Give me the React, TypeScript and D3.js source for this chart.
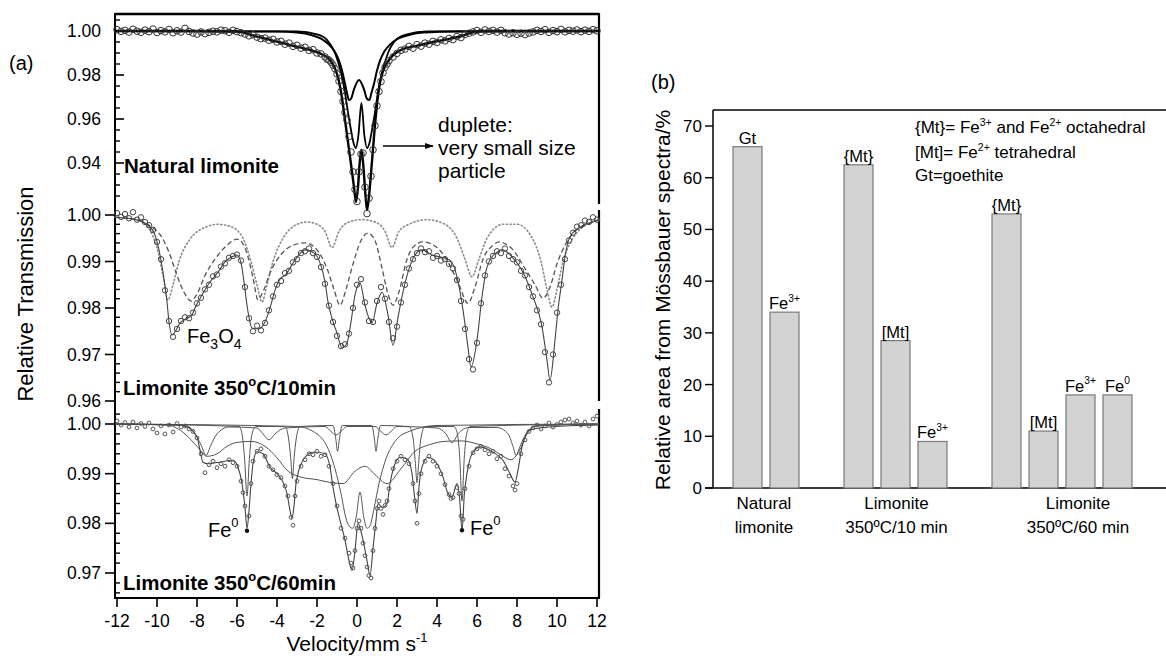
import React from 'react';
import * as d3 from 'd3';

type P = [number, number];

// ---------------- Panel (a): Mössbauer spectra ----------------
// Natural limonite
const topFit: P[] = [[-12.1,1.0],[-8,1.0],[-6,0.9998],[-5.2,0.998],[-4.35,0.996],[-3.35,0.9936],[-2.35,0.9914],[-1.85,0.9898],[-1.35,0.9868],[-1.1,0.983],[-0.9,0.977],[-0.75,0.9695],[-0.6,0.9595],[-0.45,0.9495],[-0.3,0.9395],[-0.15,0.929],[-0.05,0.9223],[0.05,0.929],[0.13,0.9395],[0.22,0.946],[0.31,0.9395],[0.41,0.927],[0.5,0.9186],[0.6,0.925],[0.72,0.9375],[0.85,0.952],[0.98,0.965],[1.12,0.975],[1.28,0.9812],[1.45,0.9848],[1.8,0.989],[2.15,0.9912],[3.15,0.9936],[3.8,0.995],[4.5,0.9962],[5.15,0.9975],[5.8,0.9994],[6.5,1.0],[12.1,1.0]];
const topDoublet: P[] = [[-12.1,1.0],[-4,0.9998],[-3,0.9993],[-2.3,0.9982],[-1.8,0.9965],[-1.4,0.9938],[-1.1,0.9905],[-0.9,0.9865],[-0.75,0.982],[-0.6,0.976],[-0.5,0.9718],[-0.4,0.9686],[-0.3,0.9692],[-0.15,0.9735],[0.1,0.9777],[0.35,0.9735],[0.5,0.9692],[0.62,0.9686],[0.72,0.9718],[0.85,0.976],[1.0,0.982],[1.15,0.9865],[1.35,0.9905],[1.65,0.9938],[2.05,0.9965],[2.6,0.9982],[3.3,0.9993],[5,0.9998],[12.1,1.0]];
const topInner: P[] = [[-12.1,1.0],[-3,0.9998],[-2.0,0.9985],[-1.5,0.996],[-1.1,0.99],[-0.8,0.981],[-0.6,0.972],[-0.45,0.963],[-0.3,0.955],[-0.17,0.949],[-0.05,0.9468],[0.07,0.9525],[0.22,0.9673],[0.37,0.9525],[0.5,0.9468],[0.62,0.949],[0.75,0.955],[0.9,0.963],[1.05,0.972],[1.25,0.981],[1.55,0.99],[1.95,0.996],[2.5,0.9985],[3.5,0.9998],[12.1,1.0]];
const topData: P[] = [[-12.0,1.0006],[-11.8,0.9998],[-11.6,1.0003],[-11.4,0.9995],[-11.2,1.0008],[-11.0,0.9999],[-10.8,0.9994],[-10.6,1.0004],[-10.4,0.9997],[-10.2,1.0009],[-10.0,0.9993],[-9.8,1.0002],[-9.6,0.9996],[-9.4,1.0007],[-9.2,0.9992],[-9.0,1.0001],[-8.8,0.9995],[-8.6,1.0012],[-8.4,0.9998],[-8.2,0.9991],[-8.0,0.9986],[-7.8,0.9996],[-7.6,0.9988],[-7.4,0.9994],[-7.2,0.9999],[-7.0,0.9996],[-6.8,1.0004],[-6.6,1.0001],[-6.4,0.9994],[-6.2,1.0003],[-6.0,0.9997],[-5.8,0.9992],[-5.6,0.9986],[-5.4,0.9978],[-5.2,0.9983],[-5.0,0.9972],[-4.8,0.9965],[-4.6,0.9968],[-4.4,0.9958],[-4.2,0.9962],[-4.0,0.995],[-3.8,0.9953],[-3.6,0.994],[-3.4,0.9945],[-3.2,0.993],[-3.0,0.9935],[-2.8,0.9922],[-2.6,0.9926],[-2.4,0.9912],[-2.2,0.9915],[-2.0,0.99],[-1.8,0.9896],[-1.6,0.9882],[-1.5,0.9872],[-1.4,0.9868],[-1.3,0.9858],[-1.2,0.9845],[-1.1,0.9828],[-1.0,0.9805],[-0.9,0.9772],[-0.8,0.9725],[-0.7,0.968],[-0.6,0.963],[-0.5,0.9595],[-0.4,0.952],[-0.3,0.945],[-0.2,0.936],[-0.1,0.928],[0.0,0.9225],[0.1,0.936],[0.2,0.944],[0.3,0.9445],[0.4,0.929],[0.5,0.917],[0.6,0.924],[0.7,0.934],[0.8,0.946],[0.9,0.957],[1.0,0.966],[1.1,0.9725],[1.2,0.977],[1.3,0.981],[1.4,0.9835],[1.5,0.985],[1.6,0.9865],[1.8,0.9882],[2.0,0.9898],[2.2,0.9912],[2.4,0.9918],[2.6,0.993],[2.8,0.9922],[3.0,0.9938],[3.2,0.9931],[3.4,0.9945],[3.6,0.994],[3.8,0.9953],[4.0,0.9948],[4.2,0.996],[4.4,0.9955],[4.6,0.9966],[4.8,0.9961],[5.0,0.9975],[5.2,0.997],[5.4,0.9984],[5.6,0.999],[5.8,0.9996],[6.0,1.0002],[6.2,0.9994],[6.4,1.0005],[6.6,0.9998],[6.8,1.0003],[7.0,0.9995],[7.2,1.0003],[7.4,0.9992],[7.6,0.9986],[7.8,0.9992],[8.0,0.9985],[8.2,0.999],[8.4,0.9984],[8.6,0.9991],[8.8,0.9996],[9.0,1.0003],[9.2,0.9998],[9.4,1.0006],[9.6,0.9994],[9.8,1.0002],[10.0,0.9997],[10.2,1.0007],[10.4,0.9996],[10.6,1.0003],[10.8,0.9999],[11.0,1.0005],[11.2,0.9997],[11.4,1.0004],[11.6,0.9998],[11.8,1.0006],[12.0,1.0001]];

// Limonite 350°C/10min
const midFit: P[] = [[-12.1,0.9995],[-11.1,0.999],[-10.45,0.9978],[-10.1,0.9957],[-9.85,0.9914],[-9.7,0.9877],[-9.5,0.9813],[-9.4,0.977],[-9.25,0.9742],[-9.05,0.9752],[-8.85,0.9768],[-8.5,0.9778],[-8.25,0.9785],[-8.1,0.98],[-7.75,0.9828],[-7.35,0.9856],[-6.95,0.9877],[-6.6,0.9899],[-6.25,0.991],[-6.0,0.9914],[-5.8,0.9897],[-5.65,0.9856],[-5.5,0.9806],[-5.4,0.978],[-5.25,0.9757],[-4.95,0.9755],[-4.6,0.977],[-4.35,0.98],[-4.1,0.9838],[-3.85,0.9862],[-3.6,0.987],[-3.1,0.9903],[-2.6,0.9925],[-2.2,0.992],[-1.85,0.9897],[-1.6,0.9856],[-1.45,0.9813],[-1.25,0.9778],[-1.0,0.9746],[-0.75,0.9714],[-0.5,0.9725],[-0.3,0.977],[-0.1,0.9828],[0.15,0.9854],[0.4,0.9806],[0.75,0.9768],[1.0,0.981],[1.25,0.9834],[1.55,0.9785],[1.8,0.972],[2.05,0.978],[2.3,0.9834],[2.55,0.9877],[2.9,0.9914],[3.25,0.9925],[3.75,0.9914],[4.15,0.991],[4.65,0.9903],[5.0,0.9867],[5.3,0.9796],[5.55,0.9716],[5.7,0.9673],[6.0,0.9731],[6.25,0.9824],[6.5,0.9888],[7.0,0.992],[7.25,0.9925],[7.8,0.9908],[8.3,0.9877],[8.8,0.9824],[9.25,0.976],[9.5,0.9688],[9.65,0.9645],[9.9,0.9731],[10.05,0.9796],[10.25,0.986],[10.4,0.991],[10.65,0.9953],[11.15,0.9974],[11.8,0.9985],[12.1,0.999]];
const midDashed: P[] = [[-12.1,0.9995],[-11,0.999],[-10.3,0.9975],[-9.8,0.9955],[-9.4,0.992],[-9.0,0.987],[-8.6,0.983],[-8.3,0.9815],[-8.0,0.983],[-7.6,0.987],[-7.1,0.9905],[-6.5,0.9935],[-6.0,0.9948],[-5.7,0.9938],[-5.45,0.991],[-5.2,0.9865],[-4.95,0.9818],[-4.7,0.9835],[-4.3,0.988],[-3.8,0.9915],[-3.2,0.9935],[-2.6,0.994],[-2.0,0.9925],[-1.5,0.9885],[-1.15,0.984],[-0.85,0.9806],[-0.55,0.984],[-0.2,0.9895],[0.2,0.9945],[0.55,0.9961],[0.9,0.9945],[1.25,0.9886],[1.55,0.983],[1.8,0.9806],[2.1,0.9835],[2.5,0.9905],[2.9,0.9935],[3.3,0.9942],[4.0,0.993],[4.6,0.9895],[5.1,0.985],[5.55,0.981],[5.9,0.9845],[6.3,0.9905],[6.8,0.9935],[7.1,0.9942],[7.8,0.9925],[8.4,0.9885],[8.9,0.985],[9.3,0.9821],[9.65,0.9845],[10.0,0.9895],[10.4,0.9935],[10.9,0.9965],[11.5,0.998],[12.1,0.999]];
const midDotted: P[] = [[-12.1,0.9995],[-11,0.999],[-10.4,0.997],[-10,0.993],[-9.7,0.987],[-9.45,0.9817],[-9.2,0.985],[-8.9,0.99],[-8.4,0.9945],[-7.5,0.9975],[-7,0.998],[-6.3,0.9975],[-5.7,0.995],[-5.3,0.99],[-5.0,0.985],[-4.75,0.9813],[-4.5,0.985],[-4.2,0.99],[-3.7,0.995],[-3.0,0.998],[-2.5,0.9985],[-2.0,0.998],[-1.6,0.9965],[-1.25,0.993],[-0.9,0.9965],[-0.4,0.9985],[0.25,0.999],[0.9,0.9985],[1.4,0.9965],[1.75,0.993],[2.1,0.9965],[2.6,0.998],[3.5,0.999],[4.4,0.998],[5.0,0.995],[5.4,0.9905],[5.75,0.9867],[6.1,0.9905],[6.5,0.995],[7.3,0.998],[8.0,0.998],[8.7,0.9955],[9.2,0.99],[9.5,0.984],[9.75,0.9802],[10.0,0.984],[10.3,0.99],[10.8,0.995],[11.5,0.998],[12.1,0.999]];
const midData: P[] = [[-12.0,1.0004],[-11.8,0.9996],[-11.6,1.0002],[-11.4,0.9993],[-11.2,1.0006],[-11.0,0.999],[-10.8,0.9995],[-10.6,0.9985],[-10.4,0.9978],[-10.2,0.9968],[-10.0,0.9942],[-9.8,0.9905],[-9.6,0.9838],[-9.4,0.9772],[-9.2,0.9738],[-9.0,0.9755],[-8.8,0.9772],[-8.6,0.978],[-8.4,0.9778],[-8.2,0.979],[-8.0,0.981],[-7.8,0.9822],[-7.6,0.984],[-7.4,0.985],[-7.2,0.9868],[-7.0,0.9872],[-6.8,0.9889],[-6.6,0.9896],[-6.4,0.9908],[-6.2,0.9912],[-6.0,0.9915],[-5.8,0.9902],[-5.6,0.9845],[-5.4,0.9778],[-5.2,0.975],[-5.0,0.9762],[-4.8,0.9752],[-4.6,0.9768],[-4.4,0.9795],[-4.2,0.9825],[-4.0,0.985],[-3.8,0.9858],[-3.6,0.9875],[-3.4,0.988],[-3.2,0.9898],[-3.0,0.9905],[-2.8,0.9918],[-2.6,0.9922],[-2.4,0.9928],[-2.2,0.9918],[-2.0,0.991],[-1.8,0.9888],[-1.6,0.9852],[-1.4,0.9805],[-1.2,0.977],[-1.0,0.974],[-0.8,0.9718],[-0.6,0.9722],[-0.4,0.9745],[-0.2,0.98],[0.0,0.985],[0.2,0.9862],[0.4,0.9812],[0.6,0.9772],[0.8,0.977],[1.0,0.9815],[1.2,0.9845],[1.4,0.982],[1.6,0.977],[1.8,0.9735],[2.0,0.976],[2.2,0.9812],[2.4,0.985],[2.6,0.9885],[2.8,0.9905],[3.0,0.9918],[3.2,0.9928],[3.4,0.992],[3.6,0.9922],[3.8,0.9908],[4.0,0.9912],[4.2,0.9902],[4.4,0.9905],[4.6,0.9895],[4.8,0.9885],[5.0,0.986],[5.2,0.9815],[5.4,0.9755],[5.6,0.969],[5.8,0.9668],[6.0,0.9725],[6.2,0.981],[6.4,0.987],[6.6,0.99],[6.8,0.9912],[7.0,0.9922],[7.2,0.9918],[7.4,0.9928],[7.6,0.9912],[7.8,0.9905],[8.0,0.9898],[8.2,0.988],[8.4,0.987],[8.6,0.9845],[8.8,0.9825],[9.0,0.9795],[9.2,0.9765],[9.4,0.9705],[9.6,0.964],[9.8,0.97],[10.0,0.979],[10.2,0.985],[10.4,0.9905],[10.6,0.9945],[10.8,0.9962],[11.0,0.9975],[11.2,0.9978],[11.4,0.9988],[11.6,0.9985],[11.8,0.9995],[12.0,0.999]];

// Limonite 350°C/60min
const botFit: P[] = [[-12.1,1.0],[-9.0,0.9998],[-8.5,0.9994],[-8.0,0.9974],[-7.85,0.9947],[-7.7,0.9923],[-7.45,0.992],[-7.1,0.9922],[-6.85,0.9923],[-6.5,0.9926],[-6.2,0.9927],[-5.95,0.9913],[-5.75,0.988],[-5.6,0.9832],[-5.5,0.979],[-5.4,0.9825],[-5.3,0.988],[-5.2,0.992],[-5.0,0.9944],[-4.7,0.994],[-4.35,0.9913],[-4.0,0.99],[-3.7,0.9883],[-3.5,0.986],[-3.35,0.9826],[-3.25,0.981],[-3.15,0.9835],[-3.05,0.988],[-2.95,0.99],[-2.6,0.9933],[-2.2,0.9943],[-2.0,0.9943],[-1.6,0.994],[-1.35,0.9913],[-1.2,0.9873],[-1.05,0.984],[-0.85,0.9806],[-0.6,0.9766],[-0.4,0.9725],[-0.25,0.9705],[-0.1,0.9745],[0.05,0.98],[0.3,0.9766],[0.5,0.9725],[0.65,0.9695],[0.8,0.975],[0.95,0.9806],[1.05,0.984],[1.25,0.9832],[1.5,0.984],[1.65,0.988],[1.9,0.992],[2.15,0.9933],[2.5,0.993],[2.75,0.99],[2.88,0.9853],[3.0,0.982],[3.1,0.9873],[3.25,0.9913],[3.55,0.9933],[4.0,0.992],[4.3,0.9893],[4.55,0.986],[4.75,0.9853],[5.0,0.988],[5.12,0.9855],[5.25,0.9786],[5.37,0.986],[5.5,0.99],[5.75,0.994],[6.15,0.9954],[6.8,0.9943],[7.3,0.9927],[7.65,0.99],[7.9,0.9883],[8.05,0.9907],[8.25,0.9954],[8.65,0.9988],[9.65,0.9994],[12.1,0.9998]];
const botFe0: P[] = [[-12.1,1.0],[-5.9,0.9995],[-5.75,0.998],[-5.62,0.993],[-5.5,0.9855],[-5.38,0.993],[-5.25,0.998],[-5.05,0.9995],[-3.6,0.9995],[-3.42,0.997],[-3.31,0.993],[-3.23,0.989],[-3.15,0.993],[-3.04,0.997],[-2.85,0.9995],[-1.2,0.9997],[-1.06,0.997],[-0.97,0.9945],[-0.88,0.997],[-0.74,0.9997],[0.74,0.9997],[0.87,0.997],[0.95,0.9945],[1.04,0.997],[1.18,0.9997],[2.6,0.9995],[2.81,0.997],[2.92,0.992],[3.0,0.9882],[3.08,0.992],[3.19,0.997],[3.4,0.9995],[4.85,0.9995],[5.02,0.998],[5.14,0.993],[5.25,0.9845],[5.36,0.993],[5.48,0.998],[5.65,0.9995],[12.1,1.0]];
const botDoublet: P[] = [[-12.1,1.0],[-3,0.9995],[-2.0,0.998],[-1.5,0.9955],[-1.1,0.991],[-0.8,0.986],[-0.55,0.981],[-0.4,0.9795],[-0.22,0.979],[-0.05,0.981],[0.15,0.9863],[0.35,0.981],[0.5,0.979],[0.65,0.9795],[0.85,0.983],[1.1,0.988],[1.45,0.993],[1.9,0.9965],[2.6,0.9985],[4,0.9997],[12.1,1.0]];
const botSextet: P[] = [[-12.1,1.0],[-8.6,0.9997],[-8.1,0.998],[-7.8,0.9958],[-7.55,0.9937],[-7.3,0.9958],[-7.0,0.998],[-6.4,0.9994],[-5.0,0.9992],[-4.7,0.998],[-4.4,0.9968],[-4.1,0.998],[-3.6,0.9992],[-1.6,0.9995],[-1.3,0.9985],[-1.05,0.9978],[-0.8,0.9985],[-0.5,0.9995],[0.9,0.9995],[1.2,0.9985],[1.45,0.9978],[1.7,0.9985],[2.0,0.9995],[4.0,0.9992],[4.45,0.998],[4.75,0.9962],[5.05,0.998],[5.6,0.9993],[7.0,0.9993],[7.55,0.998],[7.8,0.9955],[7.95,0.9937],[8.15,0.9955],[8.45,0.998],[9.0,0.9997],[12.1,1.0]];
const botBroad: P[] = [[-12.1,1.0],[-9.5,0.9998],[-8.6,0.998],[-8.0,0.9955],[-7.5,0.9935],[-7.0,0.994],[-6.5,0.9955],[-6.0,0.9963],[-5.3,0.9965],[-4.6,0.9955],[-4.0,0.9932],[-3.5,0.9907],[-2.8,0.9893],[-2.0,0.9888],[-1.3,0.9882],[-0.7,0.988],[-0.1,0.9905],[0.4,0.9915],[0.9,0.9898],[1.5,0.988],[2.2,0.991],[2.9,0.9945],[3.6,0.9958],[4.4,0.9965],[5.2,0.9966],[6.0,0.996],[6.8,0.9948],[7.3,0.9935],[7.7,0.9928],[8.1,0.9945],[8.5,0.998],[9.0,0.9996],[12.1,1.0]];
const botData: P[] = [[-12.0,1.0006],[-11.8,0.9998],[-11.6,1.0003],[-11.4,0.9994],[-11.2,1.0004],[-11.0,0.9992],[-10.8,1.0001],[-10.6,0.9995],[-10.4,1.0002],[-10.2,0.999],[-10.0,0.9982],[-9.8,0.9996],[-9.6,0.998],[-9.4,0.9998],[-9.2,0.9984],[-9.0,1.0001],[-8.8,0.9994],[-8.6,0.9996],[-8.4,0.999],[-8.2,0.9985],[-8.0,0.9972],[-7.8,0.994],[-7.6,0.9902],[-7.4,0.9918],[-7.2,0.9925],[-7.0,0.9912],[-6.8,0.992],[-6.6,0.9915],[-6.4,0.9928],[-6.2,0.9922],[-6.0,0.9915],[-5.8,0.9885],[-5.7,0.9862],[-5.6,0.9835],[-5.4,0.9815],[-5.3,0.988],[-5.2,0.9925],[-5.0,0.9945],[-4.8,0.995],[-4.6,0.9935],[-4.4,0.9915],[-4.2,0.9908],[-4.0,0.9898],[-3.8,0.9892],[-3.6,0.9875],[-3.45,0.9855],[-3.3,0.9812],[-3.2,0.9796],[-3.1,0.9855],[-3.0,0.9885],[-2.8,0.9915],[-2.6,0.9928],[-2.4,0.994],[-2.2,0.9938],[-2.0,0.9945],[-1.8,0.9935],[-1.6,0.9938],[-1.4,0.9915],[-1.2,0.988],[-1.0,0.9835],[-0.8,0.979],[-0.6,0.977],[-0.4,0.974],[-0.3,0.972],[-0.2,0.971],[-0.1,0.9745],[0.0,0.979],[0.1,0.9805],[0.2,0.979],[0.3,0.976],[0.4,0.9735],[0.5,0.9712],[0.6,0.9695],[0.7,0.969],[0.8,0.9745],[0.9,0.979],[1.0,0.983],[1.1,0.9845],[1.2,0.983],[1.3,0.9818],[1.4,0.9836],[1.5,0.9845],[1.6,0.987],[1.8,0.991],[2.0,0.9925],[2.2,0.9935],[2.4,0.9928],[2.6,0.992],[2.8,0.988],[2.9,0.9845],[3.0,0.98],[3.1,0.986],[3.2,0.99],[3.4,0.9925],[3.6,0.9935],[3.8,0.9925],[4.0,0.9915],[4.2,0.99],[4.4,0.9878],[4.6,0.9858],[4.7,0.985],[4.8,0.9852],[5.0,0.9872],[5.1,0.986],[5.2,0.9815],[5.3,0.9808],[5.4,0.987],[5.6,0.9915],[5.8,0.9942],[6.0,0.995],[6.2,0.9955],[6.4,0.9948],[6.6,0.994],[6.8,0.9945],[7.0,0.993],[7.2,0.9935],[7.4,0.991],[7.6,0.9895],[7.8,0.9875],[7.9,0.9867],[8.0,0.988],[8.2,0.994],[8.4,0.9968],[8.6,0.9985],[8.8,0.9992],[9.0,0.9998],[9.2,0.999],[9.4,0.9996],[9.6,1.0002],[9.8,0.9994],[10.0,0.9999],[10.2,1.0004],[10.4,1.0008],[10.6,1.001],[10.8,1.0002],[11.0,1.0006],[11.2,0.9998],[11.4,1.0004],[11.6,0.9996],[11.8,1.001],[12.0,1.0016]];
const botFe0Points: P[] = [[-5.5,0.9785],[5.25,0.9786]];

const velocityTicks = [-12, -10, -8, -6, -4, -2, 0, 2, 4, 6, 8, 10, 12];
const topTicks = [1.0, 0.98, 0.96, 0.94];
const midTicks = [1.0, 0.99, 0.98, 0.97, 0.96];
const botTicks = [1.0, 0.99, 0.98, 0.97];

// ---------------- Panel (b): relative areas ----------------
const barSlots = ['nat-Gt', 'nat-Fe3', 'gap1', 'm10-oct', 'm10-tet', 'm10-Fe3', 'gap2', 'm60-oct', 'm60-tet', 'm60-Fe3', 'm60-Fe0'];
const barIds = ['nat-Gt', 'nat-Fe3', 'm10-oct', 'm10-tet', 'm10-Fe3', 'm60-oct', 'm60-tet', 'm60-Fe3', 'm60-Fe0'];
const barValues = [66, 34, 62.5, 28.5, 9, 53, 11, 18, 18];
const barLabels = ['Gt', 'Fe3+', '{Mt}', '[Mt]', 'Fe3+', '{Mt}', '[Mt]', 'Fe3+', 'Fe0'];
const barGroupOf = [0, 0, 1, 1, 1, 2, 2, 2, 2];
const groupLabels = [['Natural', 'limonite'], ['Limonite', '350ºC/10 min'], ['Limonite', '350ºC/60 min']];
const areaTicks = [0, 10, 20, 30, 40, 50, 60, 70];

const FONT = '"Liberation Sans", Arial, Helvetica, sans-serif';

function isMajor(v: number, step: number) {
  const k = v / step;
  return Math.abs(k - Math.round(k)) < 1e-6;
}

function ChemLabel({ text, x, y, size, anchor = 'start' }: { text: string; x: number; y: number; size: number; anchor?: string }) {
  // "Fe3+" / "Fe0" with superscript charge
  const m = text.match(/^Fe(.+)$/);
  if (!m) return <text x={x} y={y} fontSize={size} textAnchor={anchor} fontFamily={FONT}>{text}</text>;
  return (
    <text x={x} y={y} fontSize={size} textAnchor={anchor} fontFamily={FONT}>
      Fe<tspan dy={-size * 0.45} fontSize={size * 0.62}>{m[1]}</tspan>
    </text>
  );
}

export default function App() {
  const x = d3.scaleLinear().domain([-12.1, 12.1]).range([115, 599]);
  const yTop = d3.scaleLinear().domain([0.94, 1.0]).range([163, 31]);
  const yMid = d3.scaleLinear().domain([0.96, 1.0]).range([401, 215]);
  const yBot = d3.scaleLinear().domain([0.97, 1.0]).range([573, 424]);
  const lineFor = (ys: d3.ScaleLinear<number, number>) =>
    d3.line<P>().x(d => x(d[0])).y(d => ys(d[1])).curve(d3.curveMonotoneX);
  const lTop = lineFor(yTop), lMid = lineFor(yMid), lBot = lineFor(yBot);

  const axL = 115, axR = 599, topY0 = 14, botY1 = 598;

  const topMinor = d3.range(0.925, 1.0051, 0.005).filter(v => !topTicks.some(t => Math.abs(t - v) < 1e-6));
  const midMinor = d3.range(0.962, 1.0011, 0.002).filter(v => !isMajor(v, 0.01));
  const botMinor = d3.range(0.966, 1.0021, 0.002).filter(v => !isMajor(v, 0.01));

  // bar chart scales
  const xb = d3.scaleBand<string>().domain(barSlots).range([729, 1136]).paddingInner(8 / 37).paddingOuter(4 / 37);
  const yb = d3.scaleLinear().domain([0, 70]).range([488, 126]);
  const groupCenters = groupLabels.map((_, g) => {
    const cs = barIds.filter((_, i) => barGroupOf[i] === g).map(id => (xb(id) as number) + xb.bandwidth() / 2);
    return d3.mean(cs) as number;
  });
  const groupDx = [-2, 1, 16];

  const tickFmt2 = d3.format('.2f');

  return (
    <svg width={1166} height={664} style={{ position: 'absolute', left: 0, top: 0, background: '#fff' }} fontFamily={FONT}>
      <defs>
        <marker id="arr" viewBox="0 0 10 10" refX="9" refY="5" markerWidth="7" markerHeight="7" orient="auto">
          <path d="M0,1.5 L10,5 L0,8.5 Z" fill="#000" />
        </marker>
      </defs>

      {/* ===== Panel (a) ===== */}
      <text x={9} y={70} fontSize={20}>(a)</text>

      {/* frame */}
      <line x1={axL} x2={axR} y1={topY0} y2={topY0} stroke="#000" strokeWidth={2.4} />
      <line x1={axL} x2={axL} y1={topY0 - 1} y2={botY1} stroke="#000" strokeWidth={2} />
      <line x1={axR} x2={axR} y1={topY0 - 1} y2={204} stroke="#000" strokeWidth={2.2} />
      <line x1={axR} x2={axR} y1={210} y2={401} stroke="#000" strokeWidth={2.2} />
      <line x1={axR} x2={axR} y1={409} y2={botY1} stroke="#000" strokeWidth={2.2} />
      <line x1={axL - 1} x2={axR + 1} y1={botY1} y2={botY1} stroke="#000" strokeWidth={2.2} />

      {/* top panel ticks */}
      {topTicks.map(t => (
        <g key={'tt' + t}>
          <line x1={axL} x2={axL + 9} y1={yTop(t)} y2={yTop(t)} stroke="#000" strokeWidth={1.6} />
          <text x={101} y={yTop(t) + 6} fontSize={17.5} textAnchor="end">{tickFmt2(t)}</text>
        </g>
      ))}
      {topMinor.map(t => (
        <line key={'tm' + t} x1={axL} x2={axL + 5} y1={yTop(t)} y2={yTop(t)} stroke="#000" strokeWidth={1.4} />
      ))}
      {/* middle panel ticks */}
      {midTicks.map(t => (
        <g key={'mt' + t}>
          <line x1={axL - 10} x2={axL} y1={yMid(t)} y2={yMid(t)} stroke="#000" strokeWidth={1.6} />
          <text x={101} y={yMid(t) + 6} fontSize={17.5} textAnchor="end">{tickFmt2(t)}</text>
        </g>
      ))}
      {midMinor.map(t => (
        <line key={'mm' + t} x1={axL} x2={axL + 5} y1={yMid(t)} y2={yMid(t)} stroke="#000" strokeWidth={1.4} />
      ))}
      {/* bottom panel ticks */}
      {botTicks.map(t => (
        <g key={'bt' + t}>
          <line x1={axL - 10} x2={axL} y1={yBot(t)} y2={yBot(t)} stroke="#000" strokeWidth={1.6} />
          <text x={101} y={yBot(t) + 6} fontSize={17.5} textAnchor="end">{tickFmt2(t)}</text>
        </g>
      ))}
      {botMinor.map(t => (
        <line key={'bm' + t} x1={axL} x2={axL + 5} y1={yBot(t)} y2={yBot(t)} stroke="#000" strokeWidth={1.4} />
      ))}
      {/* velocity axis */}
      {velocityTicks.map(v => (
        <g key={'vx' + v}>
          <line x1={x(v)} x2={x(v)} y1={botY1} y2={botY1 + 9} stroke="#000" strokeWidth={1.6} />
          <text x={x(v)} y={627} fontSize={17.5} textAnchor="middle">{v}</text>
        </g>
      ))}
      <text x={357} y={651} fontSize={21} textAnchor="middle">
        Velocity/mm s<tspan dy={-9} fontSize={13}>-1</tspan>
      </text>
      <text transform="translate(33,294) rotate(-90)" fontSize={22} textAnchor="middle">Relative Transmission</text>

      {/* --- Natural limonite --- */}
      <path d={lTop(topDoublet) || ''} fill="none" stroke="#000" strokeWidth={2} />
      <path d={lTop(topInner) || ''} fill="none" stroke="#000" strokeWidth={1.8} />
      <path d={lTop(topFit) || ''} fill="none" stroke="#000" strokeWidth={2.4} />
      {topData.map((d, i) => (
        <circle key={'td' + i} cx={x(d[0])} cy={yTop(d[1])} r={3.3} fill="none" stroke="#333" strokeWidth={1} />
      ))}
      <text x={124} y={173} fontSize={20.5} fontWeight="bold">Natural limonite</text>
      <line x1={383} x2={433} y1={146} y2={146} stroke="#000" strokeWidth={1.3} markerEnd="url(#arr)" />
      <text x={438} y={132} fontSize={21}>duplete:</text>
      <text x={438} y={155} fontSize={21}>very small size</text>
      <text x={438} y={178} fontSize={21}>particle</text>

      {/* --- Limonite 350°C/10min --- */}
      <path d={lMid(midDotted) || ''} fill="none" stroke="#8a8a8a" strokeWidth={1.6} strokeDasharray="1.2 2.6" strokeLinecap="round" />
      <path d={lMid(midDashed) || ''} fill="none" stroke="#555" strokeWidth={1.3} strokeDasharray="5 3" />
      <path d={lMid(midFit) || ''} fill="none" stroke="#444" strokeWidth={1.1} />
      {midData.map((d, i) => (
        <circle key={'md' + i} cx={x(d[0])} cy={yMid(d[1])} r={2.7} fill="none" stroke="#444" strokeWidth={1} />
      ))}
      <text x={187} y={343} fontSize={20}>
        Fe<tspan dy={6} fontSize={14}>3</tspan><tspan dy={-6}>O</tspan><tspan dy={6} fontSize={14}>4</tspan>
      </text>
      <text x={123} y={395} fontSize={20.5} fontWeight="bold">
        Limonite 350<tspan dy={-9} fontSize={13}>o</tspan><tspan dy={9}>C/10min</tspan>
      </text>

      {/* --- Limonite 350°C/60min --- */}
      <path d={lBot(botBroad) || ''} fill="none" stroke="#555" strokeWidth={1} />
      <path d={lBot(botSextet) || ''} fill="none" stroke="#555" strokeWidth={1} />
      <path d={lBot(botDoublet) || ''} fill="none" stroke="#555" strokeWidth={1} />
      <path d={lBot(botFe0) || ''} fill="none" stroke="#555" strokeWidth={1} />
      <path d={lBot(botFit) || ''} fill="none" stroke="#444" strokeWidth={1.1} />
      {botData.map((d, i) => (
        <circle key={'bd' + i} cx={x(d[0])} cy={yBot(d[1])} r={1.9} fill="none" stroke="#555" strokeWidth={1} />
      ))}
      {botFe0Points.map((d, i) => (
        <circle key={'bf' + i} cx={x(d[0])} cy={yBot(d[1])} r={2.2} fill="#111" />
      ))}
      <text x={208} y={537} fontSize={20}>Fe<tspan dy={-10} fontSize={13}>0</tspan></text>
      <text x={470} y={535} fontSize={20}>Fe<tspan dy={-10} fontSize={13}>0</tspan></text>
      <text x={123} y={590} fontSize={20.5} fontWeight="bold">
        Limonite 350<tspan dy={-9} fontSize={13}>o</tspan><tspan dy={9}>C/60min</tspan>
      </text>

      {/* ===== Panel (b) ===== */}
      <text x={651} y={89} fontSize={20}>(b)</text>
      <line x1={713} x2={1166} y1={110} y2={110} stroke="#000" strokeWidth={1.5} />
      <line x1={713} x2={713} y1={110} y2={488} stroke="#000" strokeWidth={1.5} />
      <line x1={705} x2={1166} y1={488} y2={488} stroke="#000" strokeWidth={1.5} />
      {areaTicks.map(t => (
        <g key={'at' + t}>
          <line x1={705} x2={713} y1={yb(t)} y2={yb(t)} stroke="#000" strokeWidth={1.4} />
          <text x={702} y={yb(t) + 6} fontSize={17} textAnchor="end">{t}</text>
        </g>
      ))}
      <text transform="translate(670,300) rotate(-90)" fontSize={21} textAnchor="middle">Relative area from Mössbauer spectra/%</text>

      {barIds.map((id, i) => {
        const bx = xb(id) as number;
        const w = xb.bandwidth();
        return (
          <g key={id}>
            <rect x={bx} y={yb(barValues[i])} width={w} height={yb(0) - yb(barValues[i])} fill="#d3d3d3" stroke="#7a7a7a" strokeWidth={1.2} />
            <ChemLabel text={barLabels[i]} x={bx + w / 2} y={yb(barValues[i]) - 3} size={16.5} anchor="middle" />
          </g>
        );
      })}

      {groupLabels.map((lines, g) => (
        <g key={'gl' + g}>
          <text x={groupCenters[g] + groupDx[g]} y={509} fontSize={17} textAnchor="middle">{lines[0]}</text>
          <text x={groupCenters[g] + groupDx[g]} y={533} fontSize={17} textAnchor="middle">{lines[1]}</text>
        </g>
      ))}

      <text x={915} y={133} fontSize={17}>
        {'{Mt}= Fe'}<tspan dy={-7} fontSize={10.5}>3+</tspan><tspan dy={7}> and Fe</tspan><tspan dy={-7} fontSize={10.5}>2+</tspan><tspan dy={7}> octahedral</tspan>
      </text>
      <text x={915} y={158} fontSize={17}>
        {'[Mt]= Fe'}<tspan dy={-7} fontSize={10.5}>2+</tspan><tspan dy={7}> tetrahedral</tspan>
      </text>
      <text x={915} y={181} fontSize={17}>Gt=goethite</text>
    </svg>
  );
}
